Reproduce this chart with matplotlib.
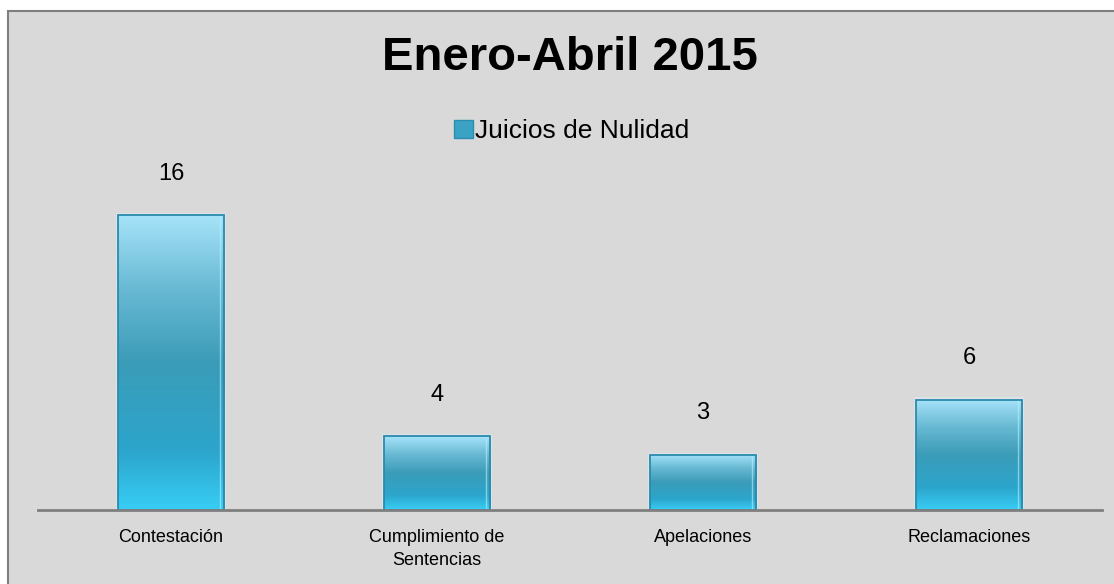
import numpy as np
import matplotlib
matplotlib.use("Agg")
import matplotlib.pyplot as plt
from matplotlib.patches import Rectangle, Patch
from matplotlib.colors import LinearSegmentedColormap

plt.rcParams['font.family'] = ['Liberation Sans', 'DejaVu Sans']

categorias = ["Contestación", "Cumplimiento de\nSentencias", "Apelaciones", "Reclamaciones"]
valores = [16, 4, 3, 6]
serie = "Juicios de Nulidad"
titulo = "Enero-Abril 2015"

W, H = 1114, 584
fig = plt.figure(figsize=(W / 100, H / 100), dpi=100)
fig.patch.set_facecolor("white")

# gray chart area with border (runs off right and bottom edges)
fig.patches.append(Rectangle((8 / W, -0.05), 1.1, 1 - 11 / H + 0.05,
                             transform=fig.transFigure, facecolor="#d9d9d9",
                             edgecolor="#7f7f7f", linewidth=1.5, zorder=-5))

ax = fig.add_axes([38 / W, 74 / H, 1064 / W, 359 / H])
ax.set_facecolor("none")
ax.set_xlim(-0.5, len(categorias) - 0.5)
ax.set_ylim(0, 19.5)

grad = LinearSegmentedColormap.from_list("barra", [
    (0.0, "#a6e3f9"),
    (0.25, "#68b9d3"),
    (0.5, "#3b9cb8"),
    (0.8, "#2ca5cc"),
    (1.0, "#38cdf5"),
])

x = np.arange(len(categorias))
barras = ax.bar(x, valores, width=0.40, color="none", edgecolor="#2a8aad",
                linewidth=1.3, zorder=3)
g = np.linspace(0, 1, 256).reshape(-1, 1)
for b in barras:
    x0, y0 = b.get_x(), b.get_y()
    w, h = b.get_width(), b.get_height()
    # soft glow
    ax.add_patch(Rectangle((x0 - 0.008, y0), w + 0.016, h + 0.12,
                           facecolor="#e0eaee", edgecolor="none", alpha=0.6, zorder=1))
    im = ax.imshow(g, cmap=grad, aspect="auto", extent=(x0, x0 + w, y0, y0 + h),
                   zorder=2, interpolation="bilinear")
    im.set_clip_path(b)
    # light inner highlight on right edge
    ax.plot([x0 + w * 0.96] * 2, [y0 + 0.1, y0 + h - 0.1], color="#b8f2ff",
            lw=1, alpha=0.6, zorder=4)

for xi, v in zip(x, valores):
    ax.annotate(str(v), (xi, v), xytext=(0, 30), textcoords="offset points",
                ha="center", va="center", fontsize=17, color="#000000")

ax.set_xticks(x)
ax.set_xticklabels(categorias, fontsize=13, linespacing=1.4)
ax.tick_params(axis="x", length=0, pad=14)
ax.set_yticks([])
for s in ["top", "right", "left"]:
    ax.spines[s].set_visible(False)
ax.spines["bottom"].set_color("#7f7f7f")
ax.spines["bottom"].set_linewidth(2)
ax.spines["bottom"].set_zorder(5)

fig.text(570 / W, 1 - 58 / H, titulo, ha="center", va="center",
         fontsize=34, fontweight="bold", color="#000000")

leg = fig.legend(handles=[Patch(facecolor="#3aa3c4", edgecolor="#2b8db0", label=serie)],
                 loc="center", bbox_to_anchor=(572 / W, 1 - 131 / H), frameon=False,
                 fontsize=19, handlelength=0.7, handleheight=0.7, handletextpad=0.1)

fig.savefig("out.png", dpi=100)
